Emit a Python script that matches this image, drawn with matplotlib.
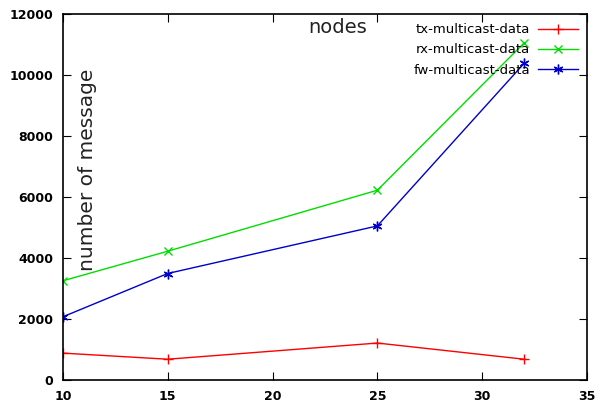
import matplotlib
matplotlib.use('Agg')
import matplotlib.pyplot as plt

x = [10, 15, 25, 32]
tx = [880, 680, 1210, 680]
rx = [3250, 4220, 6220, 11050]
fw = [2070, 3490, 5050, 10380]

fig = plt.figure(figsize=(6.16, 4.09), dpi=100)
ax = fig.add_axes([0.102, 0.071, 0.851, 0.895])

ax.plot(x, tx, color='#ff0000', marker='+', markersize=7, lw=1, label='tx-multicast-data')
ax.plot(x, rx, color='#00dd00', marker='x', markersize=6, lw=1, label='rx-multicast-data')
ax.plot(x, fw, color='#0000cc', marker=(6, 2, 0), markersize=7, lw=1, label='fw-multicast-data')

ax.set_xlim(10, 35)
ax.set_ylim(0, 12000)
ax.set_xticks([10, 15, 20, 25, 30, 35])
ax.set_yticks(range(0, 12001, 2000))
ax.tick_params(direction='in', top=True, right=True, length=6, labelsize=9, pad=7)
for lab in ax.get_xticklabels() + ax.get_yticklabels():
    lab.set_fontweight('bold')
for s in ax.spines.values():
    s.set_linewidth(1.2)

ax.text(0.525, 0.99, 'nodes', transform=ax.transAxes, fontsize=14, ha='center', va='top', color='#222222')
ax.text(0.047, 0.575, 'number of message', transform=ax.transAxes, fontsize=14.5,
        rotation=90, ha='center', va='center', color='#222222')

ax.legend(loc='upper right', markerfirst=False, frameon=False, fontsize=9.5,
          handlelength=3, handletextpad=0.6, labelspacing=0.55,
          borderaxespad=0.3)

fig.savefig('out.png', dpi=100)
